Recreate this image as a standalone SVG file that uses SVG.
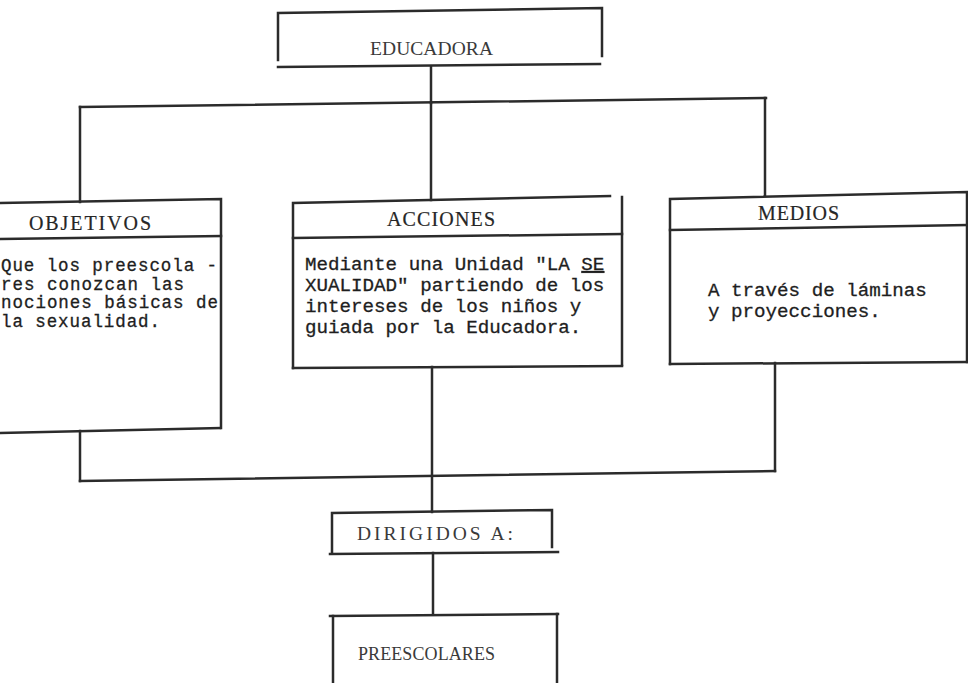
<svg xmlns="http://www.w3.org/2000/svg" width="968" height="683" viewBox="0 0 968 683">
<style>
.ln{fill:none;stroke:#2b2b2b;stroke-width:2.5;stroke-linecap:square}
.hd{font-family:"Liberation Serif","DejaVu Serif",serif;font-size:20px;fill:#262626;stroke:#262626;stroke-width:0.2}
.bd{font-family:"Liberation Mono","DejaVu Sans Mono",monospace;font-size:19.2px;fill:#1e1e1e;stroke:#1e1e1e;stroke-width:0.3}
.sm{font-size:17.5px}
.lt{font-family:"Liberation Serif","DejaVu Serif",serif;font-size:18px;fill:#3a3a3a}
.lg{font-size:19.5px}
</style>
<rect width="968" height="683" fill="#ffffff"/>
<g id="connectors" class="ln">
<path d="M431,67 L431,103"/>
<path d="M80,107 L766,98"/>
<path d="M80,107 L80,202"/>
<path d="M431,103 L431,200"/>
<path d="M765,98 L765,195"/>
<path d="M80,431 L80,481"/>
<path d="M80,481 L775,471"/>
<path d="M775,363 L775,471"/>
<path d="M432,367 L432,512"/>
<path d="M433,553 L433,614"/>
</g>
<g id="node-educadora">
<path class="ln" d="M278,60 L278,13 L602,8 L602,56"/>
<path class="ln" d="M278,67 L600,64"/>
<text class="lt lg" x="370" y="55" textLength="123" lengthAdjust="spacing">EDUCADORA</text>
</g>
<g id="node-objetivos">
<path class="ln" d="M-2,203 L221,199 L221,428"/>
<path class="ln" d="M-2,239 L221,236"/>
<path class="ln" d="M-2,433 L220,428"/>
<text class="hd" x="29" y="230" textLength="122" lengthAdjust="spacing">OBJETIVOS</text>
<text class="bd sm" x="1" y="271" textLength="216" lengthAdjust="spacing">Que los preescola -</text>
<text class="bd sm" x="1" y="289.5" textLength="183" lengthAdjust="spacing">res conozcan las</text>
<text class="bd sm" x="1" y="308" textLength="217" lengthAdjust="spacing">nociones básicas de</text>
<text class="bd sm" x="1" y="326.5" textLength="159" lengthAdjust="spacing">la sexualidad.</text>
</g>
<g id="node-acciones">
<path class="ln" d="M293,368 L293,203 L610,196"/>
<path class="ln" d="M622,197 L622,365"/>
<path class="ln" d="M293,238 L622,234"/>
<path class="ln" d="M293,368 L622,366"/>
<text class="hd" x="387" y="226" textLength="108" lengthAdjust="spacing">ACCIONES</text>
<text class="bd" x="305" y="270">Mediante una Unidad "LA <tspan style="text-decoration:underline">SE</tspan></text>
<text class="bd" x="305" y="291">XUALIDAD" partiendo de los</text>
<text class="bd" x="305" y="312">intereses de los niños y</text>
<text class="bd" x="305" y="333">guiada por la Educadora.</text>
</g>
<g id="node-medios">
<path class="ln" d="M670,364 L670,199 L967,192 L967,362"/>
<path class="ln" d="M670,230 L967,225"/>
<path class="ln" d="M670,364 L967,362"/>
<text class="hd" x="758" y="220" textLength="81" lengthAdjust="spacing">MEDIOS</text>
<text class="bd" x="708" y="296">A través de láminas</text>
<text class="bd" x="708" y="317">y proyecciones.</text>
</g>
<g id="node-dirigidos">
<path class="ln" d="M332,552 L332,513 L552,510 L552,547"/>
<path class="ln" d="M330,554 L558,552"/>
<text class="lt lg" x="357" y="540" textLength="156" lengthAdjust="spacing">DIRIGIDOS A:</text>
</g>
<g id="node-preescolares">
<path class="ln" d="M330,616 L558,614"/>
<path class="ln" d="M333,616 L333,690"/>
<path class="ln" d="M557,614 L557,690"/>
<text class="lt" x="358" y="660" textLength="137" lengthAdjust="spacing">PREESCOLARES</text>
</g>
</svg>
